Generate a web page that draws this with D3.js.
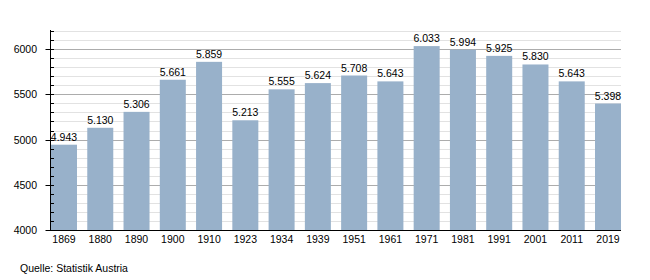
<!DOCTYPE html>
<html>
<head>
<meta charset="UTF-8">
<style>
  body { margin: 0; background: white; }
  svg text { font-family: "Liberation Sans", Arial, sans-serif; fill: #000; }
</style>
</head>
<body>
<svg width="650" height="280"></svg>
<script src="https://d3js.org/d3.v7.min.js"></script>
<script>
// Einwohner laut Volkszählung
const years = ["1869", "1880", "1890", "1900", "1910", "1923", "1934", "1939",
               "1951", "1961", "1971", "1981", "1991", "2001", "2011", "2019"];
const population = [4943, 5130, 5306, 5661, 5859, 5213, 5555, 5624,
                    5708, 5643, 6033, 5994, 5925, 5830, 5643, 5398];
const majorTicks = [4000, 4500, 5000, 5500, 6000];
const minorTicks = d3.range(4000, 6201, 100);
const source = "Quelle: Statistik Austria";

const svg = d3.select("svg");
const plotLeft = 50.5, plotRight = 621, plotTop = 30, plotBottom = 230;

const x = d3.scaleBand()
    .domain(years)
    .range([plotLeft + 0.5, plotRight])
    .paddingInner(0.283)
    .paddingOuter(0);

const y = d3.scaleLinear()
    .domain([4000, 6200])
    .range([plotBottom, plotTop + 1]);

const py = d => Math.round(y(d)) + 0.5;

// minor grid
svg.append("g")
  .selectAll("line")
  .data(minorTicks.filter(d => d % 500 !== 0))
  .join("line")
    .attr("x1", plotLeft).attr("x2", plotRight)
    .attr("y1", py).attr("y2", py)
    .attr("stroke", "#e2e2e2");

// major grid
svg.append("g")
  .selectAll("line")
  .data(majorTicks.filter(d => d > 4000))
  .join("line")
    .attr("x1", plotLeft).attr("x2", plotRight)
    .attr("y1", py).attr("y2", py)
    .attr("stroke", "#acacac");

// bars
svg.append("g")
  .selectAll("rect")
  .data(population)
  .join("rect")
    .attr("x", (d, i) => x(years[i]))
    .attr("y", d => y(d))
    .attr("width", x.bandwidth())
    .attr("height", d => y(4000) - y(d))
    .attr("fill", "#98b1ca");

// value labels
const fmt = d => d3.format(",")(d).replace(",", ".");
svg.append("g")
  .selectAll("text")
  .data(population)
  .join("text")
    .attr("x", (d, i) => x(years[i]) + x.bandwidth() / 2)
    .attr("y", d => y(d) - 4)
    .attr("text-anchor", "middle")
    .attr("font-size", 10.5)
    .text(fmt);

// y axis
const yAxis = svg.append("g");
yAxis.append("line")
    .attr("x1", plotLeft).attr("x2", plotLeft)
    .attr("y1", plotTop).attr("y2", plotBottom)
    .attr("stroke", "#000");
yAxis.selectAll(".minor")
  .data(minorTicks.filter(d => d % 500 !== 0))
  .join("line")
    .attr("x1", plotLeft).attr("x2", plotLeft + 3.5)
    .attr("y1", py).attr("y2", py)
    .attr("stroke", "#000");
yAxis.selectAll(".major")
  .data(majorTicks)
  .join("line")
    .attr("x1", plotLeft - 5).attr("x2", plotLeft + 3.5)
    .attr("y1", py).attr("y2", py)
    .attr("stroke", "#000");
yAxis.selectAll("text")
  .data(majorTicks)
  .join("text")
    .attr("x", 37)
    .attr("y", d => y(d) + 4)
    .attr("text-anchor", "end")
    .attr("font-size", 10.5)
    .text(d => d);

// x axis
svg.append("line")
    .attr("x1", plotLeft).attr("x2", plotRight)
    .attr("y1", plotBottom + 0.5).attr("y2", plotBottom + 0.5)
    .attr("stroke", "#000");
svg.append("g")
  .selectAll("text")
  .data(years)
  .join("text")
    .attr("x", d => x(d) + x.bandwidth() / 2)
    .attr("y", plotBottom + 13)
    .attr("text-anchor", "middle")
    .attr("font-size", 10.5)
    .text(d => d);

svg.append("text")
    .attr("x", 20)
    .attr("y", 272)
    .attr("font-size", 10.5)
    .text(source);
</script>
</body>
</html>
